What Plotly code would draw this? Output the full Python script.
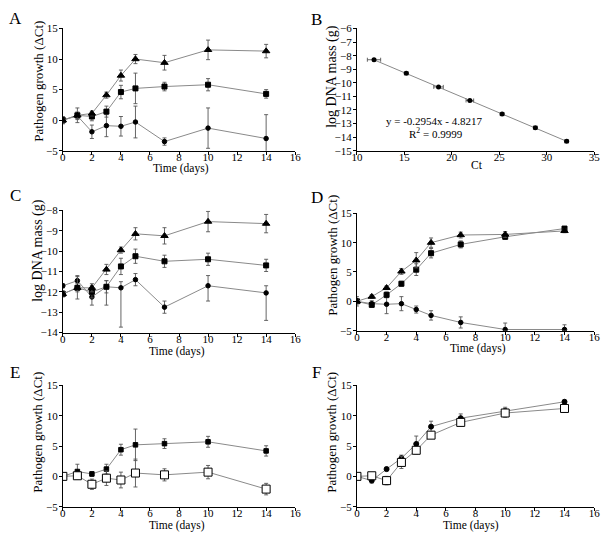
import plotly.graph_objects as go

# ---------------- data ----------------
days = [0, 1, 2, 3, 4, 5, 7, 10, 14]

# Panel A: pathogen growth (dCt)
A_tri = [0, 0.8, 1.1, 4.1, 7.3, 10.0, 9.4, 11.5, 11.3]
A_tri_err = [0.3, 0.5, 0.4, 0.5, 0.9, 0.75, 1.2, 1.6, 1.1]
A_sq = [0, 0.8, 0.6, 1.4, 4.6, 5.2, 5.5, 5.8, 4.3]
A_sq_err = [0.5, 1.2, 0.7, 0.9, 1.1, 2.5, 0.7, 1.0, 0.7]
A_ci = [0, 0.7, -1.9, -0.9, -1.0, -0.3, -3.5, -1.3, -3.0]
A_ci_err = [0.6, 0.6, 1.1, 1.8, 1.6, 2.6, 0.6, 3.3, 3.9]

# Panel B: standard curve
B_ct = [11.8, 15.2, 18.6, 21.9, 25.3, 28.8, 32.1]
B_logmass = [-8.3, -9.3, -10.3, -11.3, -12.3, -13.3, -14.3]
B_ct_err = [0.7, 0.2, 0.5, 0.4, 0.2, 0.2, 0.2]
B_slope = -0.2954
B_intercept = -4.8217
B_r2 = 0.9999

# Panel C: log DNA mass (g)
C_tri = [-12.1, -11.8, -11.8, -10.9, -9.95, -9.15, -9.25, -8.55, -8.65]
C_tri_err = [0.1, 0.2, 0.2, 0.25, 0.15, 0.3, 0.4, 0.5, 0.45]
C_sq = [-12.1, -11.8, -12.0, -11.75, -10.75, -10.25, -10.5, -10.4, -10.7]
C_sq_err = [0.15, 0.55, 0.3, 0.3, 0.4, 0.35, 0.3, 0.3, 0.3]
C_ci = [-11.7, -11.45, -12.25, -11.75, -11.8, -11.4, -12.75, -11.7, -12.05]
C_ci_err_up = [0.1, 0.25, 0.4, 0.3, 0.3, 0.3, 0.3, 0.5, 0.35]
C_ci_err_dn = [0.1, 0.25, 0.4, 0.9, 1.93, 0.3, 0.3, 0.75, 1.35]

# Panel D
D_tri = [0, 0.8, 2.3, 5.1, 7.0, 10.0, 11.3, 11.4, 12.0]
D_tri_err = [0.3, 0.3, 0.3, 0.5, 1.3, 0.8, 0.5, 0.5, 0.3]
D_sq = [0, -0.6, 1.1, 3.0, 5.4, 8.2, 9.7, 11.0, 12.4]
D_sq_err = [0.3, 0.4, 0.5, 0.4, 1.0, 0.8, 0.6, 0.4, 0.3]
D_ci = [0, -0.4, -0.5, -0.4, -1.4, -2.4, -3.6, -4.8, -4.8]
D_ci_err = [0.8, 0.5, 1.6, 1.2, 0.6, 0.8, 0.95, 1.1, 0.8]

# Panel E
E_filled = [0, 0.8, 0.4, 1.2, 4.4, 5.2, 5.4, 5.7, 4.2]
E_filled_err = [0.3, 1.2, 0.4, 0.8, 0.9, 2.6, 0.8, 0.9, 0.85]
E_open = [0, 0.1, -1.3, -0.3, -0.6, 0.55, 0.25, 0.7, -2.1]
E_open_err = [0.3, 0.5, 0.85, 1.2, 1.3, 2.3, 1.0, 1.1, 0.95]

# Panel F
F_filled = [0, -0.7, 1.2, 3.0, 5.35, 8.2, 9.6, 10.8, 12.3]
F_filled_err = [0.3, 0.4, 0.3, 0.5, 1.3, 0.9, 0.7, 0.6, 0.3]
F_open = [0, 0.1, -0.7, 2.3, 4.3, 6.8, 8.9, 10.45, 11.2]
F_open_err = [0.4, 0.4, 0.7, 1.0, 0.6, 0.5, 0.6, 0.7, 0.3]

# ---------------- layout helpers ----------------
W, H = 608, 543
FONT = "Liberation Serif, Times New Roman, serif"
LINE = "#8a8a8a"
ERR = "#555555"


def xd(a, b):
    return [a / W, b / W]


def yd(top, bot):
    return [1 - bot / H, 1 - top / H]


def px(x):
    return x / W


def py(y):
    return 1 - y / H


fig = go.Figure()


def series(ax, xs, ys, err, symbol, size, fill="black", err_dn=None):
    sym = err_dn is None
    fig.add_trace(go.Scatter(
        x=xs, y=ys, xaxis="x" + ax, yaxis="y" + ax,
        mode="lines+markers",
        line=dict(color=LINE, width=1),
        marker=dict(symbol=symbol, size=size, color=fill,
                    line=dict(color="black", width=1)),
        error_y=dict(type="data", array=err, arrayminus=err_dn,
                     symmetric=sym, color=ERR, thickness=0.9, width=2),
        showlegend=False, hoverinfo="x+y"))


# A
series("", days, A_ci, A_ci_err, "circle", 4.5)
series("", days, A_sq, A_sq_err, "square", 5)
series("", days, A_tri, A_tri_err, "triangle-up", 6.5)

# B
fit_x = [min(B_ct), max(B_ct)]
fit_y = [B_slope * v + B_intercept for v in fit_x]
fig.add_trace(go.Scatter(x=fit_x, y=fit_y, xaxis="x2", yaxis="y2", mode="lines",
                         line=dict(color=LINE, width=1), showlegend=False))
fig.add_trace(go.Scatter(
    x=B_ct, y=B_logmass, xaxis="x2", yaxis="y2", mode="markers",
    marker=dict(symbol="circle", size=5, color="black"),
    error_x=dict(type="data", array=B_ct_err, color=ERR, thickness=0.9, width=2),
    showlegend=False))

# C
series("3", days, C_ci, C_ci_err_up, "circle", 4.5, err_dn=C_ci_err_dn)
series("3", days, C_sq, C_sq_err, "square", 5)
series("3", days, C_tri, C_tri_err, "triangle-up", 6.5)

# D
series("4", days, D_ci, D_ci_err, "circle", 4.5)
series("4", days, D_sq, D_sq_err, "square", 5)
series("4", days, D_tri, D_tri_err, "triangle-up", 6.5)

# E
series("5", days, E_filled, E_filled_err, "square", 4.5)
series("5", days, E_open, E_open_err, "square", 8, fill="white")

# F
series("6", days, F_filled, F_filled_err, "circle", 5)
series("6", days, F_open, F_open_err, "square", 8, fill="white")

boxes = {
    "": dict(x=(58, 295), y=(23, 148), xr=[0, 16], xdt=2, yr=[-5, 15], ydt=5),
    "2": dict(x=(358, 600), y=(23, 148), xr=[10, 35], xdt=5, yr=[-15, -6], ydt=1),
    "3": dict(x=(58, 295), y=(209, 334), xr=[0, 16], xdt=2, yr=[-14, -8], ydt=1),
    "4": dict(x=(358, 600), y=(212, 332), xr=[0, 16], xdt=2, yr=[-5, 15], ydt=5),
    "5": dict(x=(58, 295), y=(388, 512), xr=[0, 16], xdt=2, yr=[-5, 15], ydt=5),
    "6": dict(x=(358, 600), y=(388, 512), xr=[0, 16], xdt=2, yr=[-5, 15], ydt=5),
}

axis_common = dict(showline=True, linecolor="black", linewidth=1, ticks="outside",
                   ticklen=3, tickwidth=1, tickcolor="black", showgrid=False,
                   zeroline=False, tickfont=dict(family=FONT, size=11, color="black"))

layout = dict(width=W, height=H, margin=dict(l=0, r=0, t=0, b=0),
              paper_bgcolor="white", plot_bgcolor="white", showlegend=False,
              font=dict(family=FONT, color="black"))

for k, b in boxes.items():
    layout["xaxis" + k] = dict(domain=xd(*b["x"]), range=b["xr"], dtick=b["xdt"],
                               tick0=b["xr"][0], anchor="y" + k,
                               ticklabelstandoff=-7, **axis_common)
    layout["yaxis" + k] = dict(domain=yd(*b["y"]), range=b["yr"], dtick=b["ydt"],
                               tick0=b["yr"][0], anchor="x" + k,
                               ticklabelstandoff=-1, **axis_common)

fig.update_layout(**layout)

ann = []


def text(t, x, y, size, angle=0):
    ann.append(dict(text=t, x=px(x), y=py(y), xref="paper", yref="paper",
                    showarrow=False, textangle=angle, xanchor="center",
                    yanchor="middle", font=dict(family=FONT, size=size, color="black")))


# panel letters
for letter, (x, y) in {"A": (10, 13), "B": (317, 14), "C": (10, 194), "D": (317, 196),
                       "E": (9, 375), "F": (317, 375)}.items():
    text(letter, x, y, 17)

# axis titles
text("Pathogen growth (ΔCt)", 33, 77, 13, -90)
text("log DNA mass (g)", 333, 72, 14, -90)
text("log DNA mass (g)", 33, 250, 14, -90)
text("Pathogen growth (ΔCt)", 333, 255, 13, -90)
text("Pathogen growth (ΔCt)", 32, 436, 13, -90)
text("Pathogen growth (ΔCt)", 332, 436, 13, -90)

text("Time (days)", 179, 166, 11.5)
text("Ct", 480, 163, 11.5)
text("Time (days)", 174, 353, 11.5)
text("Time (days)", 482, 350, 11.5)
text("Time (days)", 174, 531, 11.5)
text("Time (days)", 474, 531, 11.5)

# fit equation
text(f"y = {B_slope}x - {abs(B_intercept)}", 437, 118, 11)
text(f"R<sup>2</sup> = {B_r2}", 439, 130, 11)

fig.update_layout(annotations=ann)
fig.write_html("out.html", config={"displayModeBar": False},
               post_script="document.body.style.margin='0px';document.body.style.padding='0px';")
